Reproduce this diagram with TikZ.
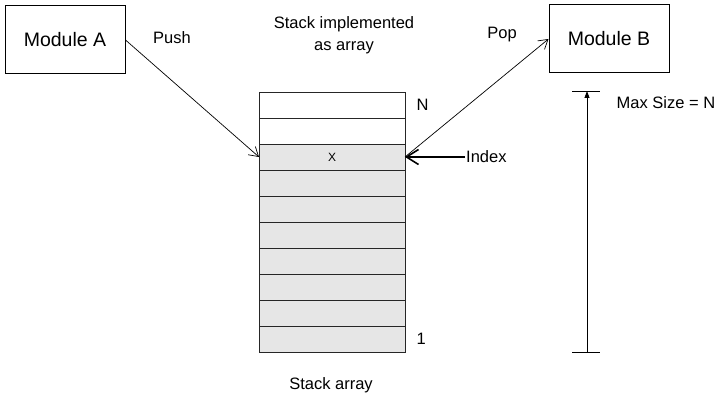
\documentclass[tikz,border=0pt]{standalone}
\usepackage{fontspec}
\setmainfont{Liberation Sans}
\usetikzlibrary{arrows.meta,positioning}
\definecolor{CellGray}{RGB}{230,230,230}

\begin{document}
\begin{tikzpicture}[x=1pt, y=1pt, font=\fontsize{16.5}{22}\selectfont]
          \tikzset{
            mod/.style={draw, line width=1pt, minimum width=120pt, minimum height=68pt, font=\fontsize{19.5}{22}\selectfont},
            cell/.style={draw=black!85, line width=0.9pt, fill=CellGray, minimum width=146pt, minimum height=26pt, outer sep=0pt, inner sep=0pt, font=\fontsize{12}{14}\selectfont},
            arr/.style={-{Straight Barb[length=9pt, width=11pt]}, line width=0.7pt}
          }
          \useasboundingbox (0,0) rectangle (715,398);
          \node[mod] (moda) at (65,358) {Module A};
          \node[mod] (modb) at (609,359) {Module B};
          \node[cell, fill=white] (c10) at (332,293) {};
          \node[cell, fill=white, below=0pt of c10] (c9) {};
          \node[cell, below=0pt of c9] (c8) {X};
          \node[cell, below=0pt of c8] (c7) {};
          \node[cell, below=0pt of c7] (c6) {};
          \node[cell, below=0pt of c6] (c5) {};
          \node[cell, below=0pt of c5] (c4) {};
          \node[cell, below=0pt of c4] (c3) {};
          \node[cell, below=0pt of c3] (c2) {};
          \node[cell, below=0pt of c2] (c1) {};
          \node[right=8pt of c10] (ntop) {N};
          \node[right=8pt of c1] (nbot) {1};
          \node[align=center] (title) at (344,363) {Stack implemented\\as array};
          \node (cap) at (331,13) {Stack array};
          \node (push) at (172,360) {Push};
          \node (pop) at (502,363) {Pop};
          \node[anchor=west, inner sep=1pt] (idx) at (465,241) {Index};
          \draw[arr] (moda.east) -- (c8.west);
          \draw[arr] (c8.east) -- (modb.west);
          \draw[line width=2pt, -{Straight Barb[length=12pt, width=15pt, line width=1.6pt]}] (idx.west) -- (c8.east);
          \coordinate (mtop) at (587,307);
          \coordinate (mbot) at (587,46);
          \draw[line width=0.8pt, -{Triangle[length=7pt, width=5pt]}] (mbot) -- (mtop);
          \draw[line width=0.8pt] ([xshift=-15pt]mtop) -- ([xshift=13pt]mtop);
          \draw[line width=0.8pt] ([xshift=-15pt]mbot) -- ([xshift=13pt]mbot);
          \node (maxlbl) at (666,295) {Max Size = N};
        \end{tikzpicture}
\end{document}
